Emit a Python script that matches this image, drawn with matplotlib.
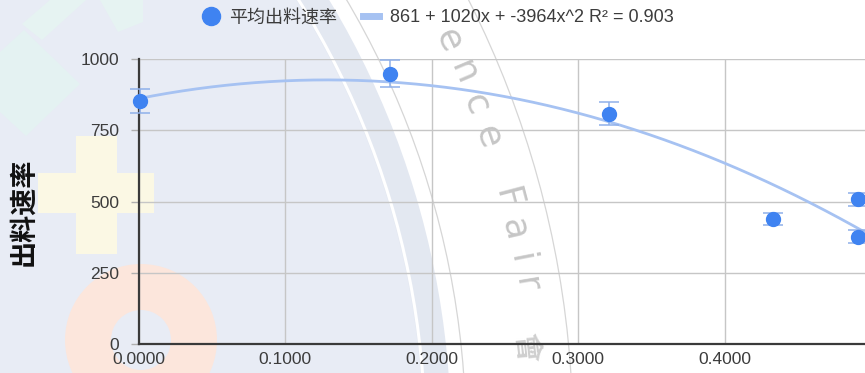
import numpy as np
import matplotlib
matplotlib.use("Agg")
import matplotlib.pyplot as plt
from matplotlib.patches import Circle, Wedge, Polygon
from matplotlib.lines import Line2D

plt.rcParams['font.family'] = ['Liberation Sans', 'Noto Sans CJK SC', 'DejaVu Sans']

# measured feed rate vs. additive ratio
ratio = [0.001, 0.172, 0.321, 0.433, 0.491, 0.491]
feed_rate = [851, 948, 808, 438, 508, 377]
feed_err = [42, 47, 41, 20, 23, 22]

# quadratic trend line coefficients
trend_c0 = 861
trend_c1 = 1020
trend_c2 = -3964
trend_r2 = 0.903

series_name = "平均出料速率"
y_label = "出料速率"
y_ticks = [0, 250, 500, 750, 1000]
x_ticks = [0.0, 0.1, 0.2, 0.3, 0.4]

W, H = 865, 373
fig = plt.figure(figsize=(W / 100, H / 100), dpi=100, facecolor="white")

# ---- background seal artwork (pixel coordinates) ----
bg = fig.add_axes([0, 0, 1, 1], zorder=-5)
bg.set_xlim(0, W)
bg.set_ylim(H, 0)
bg.axis("off")
cx, cy = -394, 437
bg.add_patch(Circle((cx, cy), 845, facecolor="#e3e8f1", edgecolor="none"))
bg.add_patch(Circle((cx, cy), 817, facecolor="#e8ecf5", edgecolor="none"))
bg.add_patch(Circle((cx, cy), 819, facecolor="none", edgecolor="white", lw=2.2))
bg.add_patch(Circle((cx, cy), 860, facecolor="none", edgecolor="#d6d6d6", lw=0.9))
bg.add_patch(Circle((cx, cy), 967, facecolor="none", edgecolor="#d6d6d6", lw=0.9))
bg.add_patch(Polygon([(0, 52), (24, 30), (80, 84), (26, 136), (0, 112)],
                     facecolor="#e4f2f2", edgecolor="none"))
bg.add_patch(Polygon([(22, 24), (50, 0), (86, 0), (42, 40)],
                     facecolor="#e6f3f2", edgecolor="none"))
bg.add_patch(Polygon([(100, 0), (143, 0), (143, 22), (118, 32)],
                     facecolor="#e6f3f2", edgecolor="none"))
bg.add_patch(Polygon([(76, 136), (117, 136), (117, 173), (154, 173), (154, 213),
                      (117, 213), (117, 254), (76, 254), (76, 213), (38, 213),
                      (38, 173), (76, 173)], facecolor="#fbf8e4", edgecolor="none"))
bg.add_patch(Wedge((141, 340), 76, 0, 360, width=46, facecolor="#fce6dc",
                   edgecolor="none"))
for ch, ang in zip("enceFair", [25.2, 23.0, 20.9, 18.8, 14.8, 12.9, 11.0, 9.4]):
    a = np.radians(ang)
    bg.text(cx + 932 * np.cos(a), cy - 932 * np.sin(a), ch, fontsize=26,
            color="#c6c6c6", rotation=ang - 90, ha="center", va="center",
            rotation_mode="anchor", family="DejaVu Sans")
a = np.radians(5.6)
bg.text(cx + 925 * np.cos(a), cy - 925 * np.sin(a), "會", fontsize=21,
        color="#cfcfcf", rotation=-84, ha="center", va="center",
        rotation_mode="anchor", family="Noto Sans CJK TC", fontweight="bold")

# ---- chart ----
ax = fig.add_axes([138.5 / W, 29 / H, (W - 138.5) / W, 285 / H], zorder=1)
ax.set_facecolor("none")
ax.set_xlim(0, (W - 138.5) / 1465)
ax.set_ylim(0, 1000)

ax.set_yticks(y_ticks)
ax.set_yticklabels([str(v) for v in y_ticks])
ax.set_xticks(x_ticks)
ax.set_xticklabels([f"{v:.4f}" for v in x_ticks])
ax.grid(True, color="#c6c6c6", lw=1.0)
ax.set_axisbelow(True)
for s in ("top", "right"):
    ax.spines[s].set_visible(False)
for s in ("left", "bottom"):
    ax.spines[s].set_color("#3a3a3a")
    ax.spines[s].set_linewidth(1.6)
ax.tick_params(axis="y", length=6, width=1, color="#b0b0b0", pad=8,
               labelsize=12.5, labelcolor="#3c3c3c")
ax.tick_params(axis="x", length=0, pad=6, labelsize=12.5, labelcolor="#3c3c3c")

xs = np.linspace(0, ax.get_xlim()[1], 200)
trend = trend_c0 + trend_c1 * xs + trend_c2 * xs ** 2
trend_label = f"{trend_c0} + {trend_c1}x + {trend_c2}x^2 R² = {trend_r2}"
ax.plot(xs, trend, color="#a6c2f2", lw=2.0, zorder=2)

ax.errorbar(ratio, feed_rate, yerr=feed_err, fmt="none", ecolor="#8fb0ea",
            elinewidth=1.1, capsize=7, capthick=1.1, zorder=3, clip_on=False)
ax.plot(ratio, feed_rate, "o", color="#3f83f1", markersize=10, zorder=4,
        clip_on=False)

ax.set_ylabel(y_label, fontsize=19.5, fontweight="bold", color="#111111",
              family=["Noto Sans CJK SC"])
ax.yaxis.set_label_coords(-(138.5 - 37) / (W - 138.5), 0.465)

handles = [Line2D([], [], ls="none", marker="o", color="#3f83f1", markersize=13),
           Line2D([], [], color="#a6c2f2", lw=5)]
leg = fig.legend(handles, [series_name, trend_label], ncol=2, frameon=False,
                 loc="center", bbox_to_anchor=(438 / W, 1 - 18 / H),
                 fontsize=13, handlelength=0.9, handletextpad=0.6,
                 columnspacing=1.4, borderaxespad=0)
for t in leg.get_texts():
    t.set_color("#3c3c3c")

fig.savefig("out.png", dpi=100, facecolor="white")
